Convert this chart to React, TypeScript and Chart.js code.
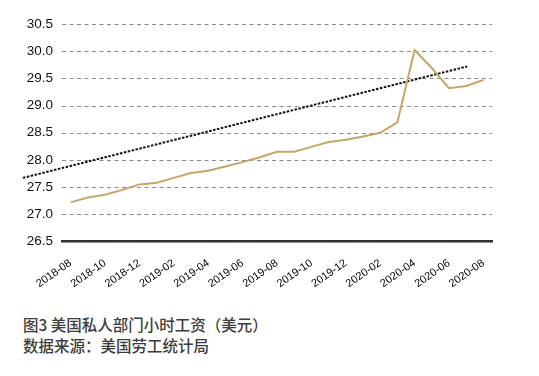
import React, { useEffect, useRef } from "react";
import Chart from "chart.js/auto";

const months = [
  "2018-08", "2018-09", "2018-10", "2018-11", "2018-12",
  "2019-01", "2019-02", "2019-03", "2019-04", "2019-05", "2019-06", "2019-07",
  "2019-08", "2019-09", "2019-10", "2019-11", "2019-12",
  "2020-01", "2020-02", "2020-03", "2020-04", "2020-05", "2020-06", "2020-07", "2020-08",
];
const wages = [
  27.22, 27.31, 27.36, 27.45, 27.55, 27.58, 27.67, 27.76, 27.8, 27.88, 27.96, 28.05,
  28.15, 28.15, 28.24, 28.33, 28.37, 28.43, 28.5, 28.69, 30.02, 29.69, 29.32, 29.36, 29.47,
];
// trend line end points: month index (may extend past the axis) and value
const trendX = [-2.77, 23.06];
const trendY = [27.67, 29.72];
const yTicks = [26.5, 27.0, 27.5, 28.0, 28.5, 29.0, 29.5, 30.0, 30.5];
const xTickIndices = [0, 2, 4, 6, 8, 10, 12, 14, 16, 18, 20, 22, 24];
const captionTitle = "图3 美国私人部门小时工资（美元）";
const captionSource = "数据来源：美国劳工统计局";

const dashedGrid = {
  id: "dashedGrid",
  beforeDatasetsDraw(chart: any) {
    const { ctx, chartArea, scales } = chart;
    const y = scales.y;
    const on = 4;
    const off = 3.5;
    ctx.save();
    ctx.strokeStyle = "#8a8a8a";
    ctx.lineWidth = 1;
    ctx.setLineDash([]);
    y.ticks.forEach((t: any) => {
      const py = Math.round(y.getPixelForValue(t.value)) + 0.5;
      ctx.beginPath();
      for (let x = chartArea.left; x < chartArea.right; x += on + off) {
        ctx.moveTo(x, py);
        ctx.lineTo(Math.min(x + on, chartArea.right), py);
      }
      ctx.stroke();
    });
    ctx.restore();
  },
};

export default function App() {
  const ref = useRef<HTMLCanvasElement | null>(null);
  useEffect(() => {
    if (!ref.current) return;
    const chart = new Chart(ref.current, {
      type: "line",
      data: {
        datasets: [
          {
            data: months.map((_, i) => ({ x: i, y: wages[i] })),
            borderColor: "#c9a467",
            borderWidth: 2,
            pointRadius: 0,
            tension: 0,
            fill: false,
          },
          {
            data: trendX.map((x, i) => ({ x, y: trendY[i] })),
            borderColor: "#111",
            borderWidth: 2,
            borderDash: [2.5, 1.5],
            pointRadius: 0,
            fill: false,
            clip: false as any,
          },
        ],
      },
      plugins: [dashedGrid],
      options: {
        animation: false,
        responsive: false,
        devicePixelRatio: 1,
        layout: { padding: { left: 0, right: 47, top: 24, bottom: 0 } },
        plugins: { legend: { display: false }, tooltip: { enabled: false } },
        scales: {
          x: {
            type: "linear",
            min: -0.5,
            max: 24.5,
            grid: { display: false },
            border: { display: true, color: "#333", width: 2.5 },
            afterBuildTicks: (scale: any) => {
              scale.ticks = xTickIndices.map((v) => ({ value: v }));
            },
            afterFit: (scale: any) => {
              scale.height = 58.5;
            },
            ticks: {
              autoSkip: false,
              minRotation: 35,
              maxRotation: 35,
              padding: 7,
              color: "#000",
              font: { family: "Liberation Sans, Arial, sans-serif", size: 11 },
              callback: (v: any) => months[v as number] ?? "",
            },
          },
          y: {
            min: 26.5,
            max: 30.5,
            afterBuildTicks: (scale: any) => {
              scale.ticks = yTicks.map((v) => ({ value: v }));
            },
            afterFit: (scale: any) => {
              scale.width = 62;
            },
            grid: { display: false, drawTicks: false },
            border: { display: false },
            ticks: {
              padding: 9,
              color: "#111",
              font: { family: "Liberation Sans, Arial, sans-serif", size: 13.5 },
              callback: (v: any) => Number(v).toFixed(1),
            },
          },
        },
      },
    } as any);
    return () => chart.destroy();
  }, []);
  return (
    <div style={{ position: "absolute", left: 0, top: 0, width: 539, height: 376, background: "#fff" }}>
      <canvas ref={ref} width={539} height={300} style={{ display: "block", width: 539, height: 300 }} />
      <div
        style={{
          position: "absolute",
          left: 23,
          top: 314,
          fontFamily: "'Noto Sans CJK SC', sans-serif",
          fontSize: 15.5,
          fontWeight: 500,
          lineHeight: "20.5px",
          color: "#3d3d3d",
          whiteSpace: "nowrap",
        }}
      >
        <div>{captionTitle}</div>
        <div>{captionSource}</div>
      </div>
    </div>
  );
}
